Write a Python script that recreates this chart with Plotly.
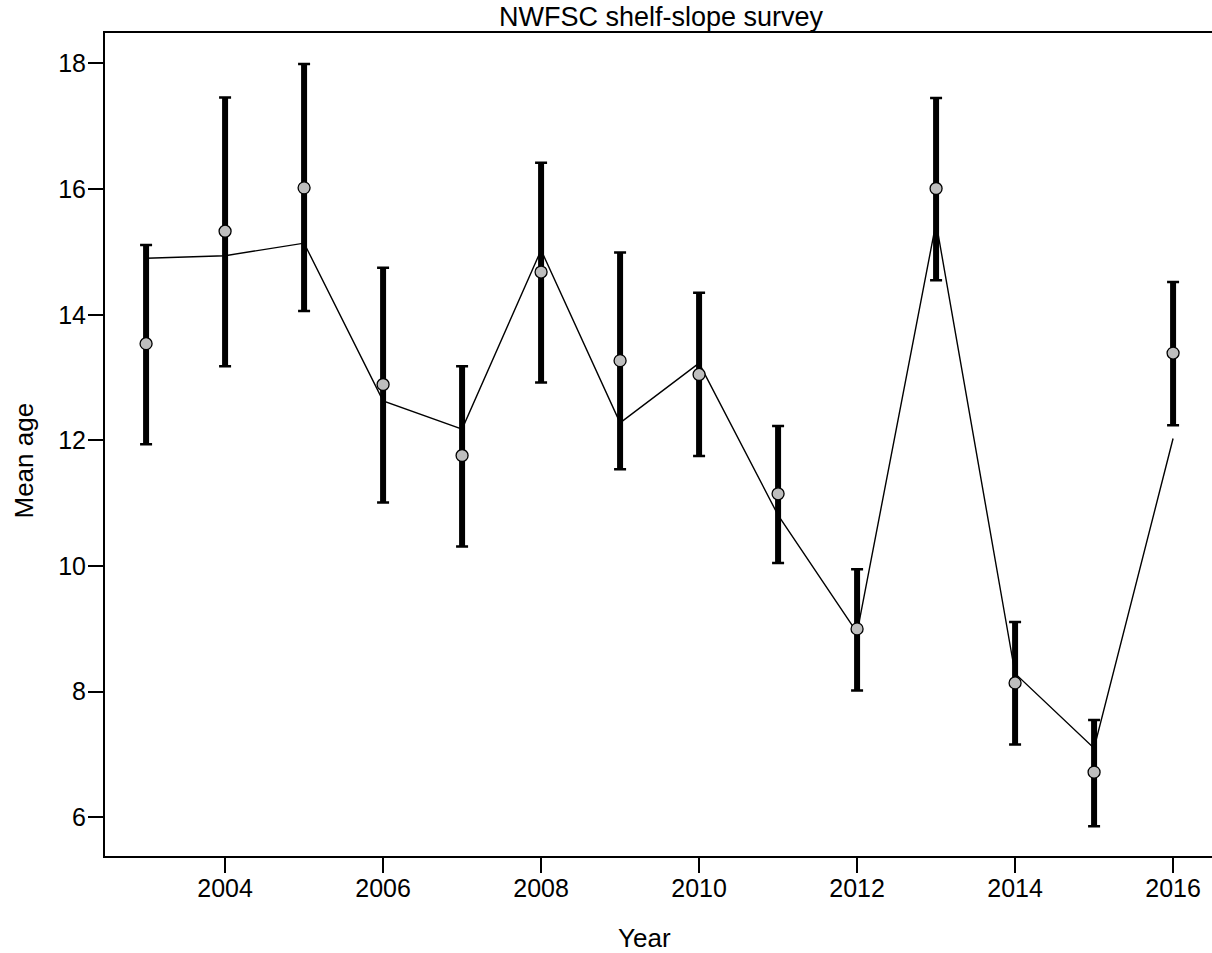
import plotly.graph_objects as go

years = [2003, 2004, 2005, 2006, 2007, 2008, 2009, 2010, 2011, 2012, 2013, 2014, 2015, 2016]
obs_mean_age = [13.54, 15.33, 16.02, 12.89, 11.76, 14.68, 13.27, 13.05, 11.15, 9.00, 16.01, 8.14, 6.72, 13.39]
upper_ci = [15.11, 17.46, 17.99, 14.75, 13.18, 16.42, 14.99, 14.35, 12.23, 9.95, 17.45, 9.11, 7.55, 14.52]
lower_ci = [11.94, 13.18, 14.06, 11.01, 10.31, 12.92, 11.54, 11.75, 10.05, 8.02, 14.55, 7.16, 5.86, 12.24]
exp_mean_age = [14.90, 14.94, 15.14, 12.63, 12.18, 15.03, 12.28, 13.23, 10.81, 8.94, 15.47, 8.29, 7.10, 12.03]
x_ticks = [2004, 2006, 2008, 2010, 2012, 2014, 2016]
y_ticks = [6, 8, 10, 12, 14, 16, 18]

err_plus = [u - o for u, o in zip(upper_ci, obs_mean_age)]
err_minus = [o - l for o, l in zip(obs_mean_age, lower_ci)]

FONT = "Liberation Sans, Arial, sans-serif"

fig = go.Figure()

# thick vertical bars
fig.add_trace(go.Scatter(
    x=years, y=obs_mean_age, mode="markers",
    marker=dict(size=1, color="rgba(0,0,0,0)"),
    error_y=dict(type="data", symmetric=False, array=err_plus, arrayminus=err_minus,
                 thickness=6, width=0, color="black"),
    showlegend=False, hoverinfo="skip"))
# caps
fig.add_trace(go.Scatter(
    x=years, y=obs_mean_age, mode="markers",
    marker=dict(size=1, color="rgba(0,0,0,0)"),
    error_y=dict(type="data", symmetric=False, array=err_plus, arrayminus=err_minus,
                 thickness=2.5, width=6, color="black"),
    showlegend=False, hoverinfo="skip"))
# expected line
fig.add_trace(go.Scatter(
    x=years, y=exp_mean_age, mode="lines",
    line=dict(color="black", width=1.4),
    showlegend=False))
# observed points
fig.add_trace(go.Scatter(
    x=years, y=obs_mean_age, mode="markers",
    marker=dict(size=12, color="#bebebe", line=dict(color="black", width=1.3)),
    showlegend=False))

L, T, B = 105, 33, 97
W, H = 1212, 953
pw = W - L
ph = H - T - B

def px_x(px):
    return (px - L) / pw

def px_y(py):
    return (H - B - py) / ph

fig.update_layout(
    width=W, height=H,
    margin=dict(l=L, r=0, t=T, b=B, pad=0),
    paper_bgcolor="white", plot_bgcolor="white",
    font=dict(family=FONT, size=25, color="black"),
    xaxis=dict(range=[2002.48, 2002.48 + pw / 79.0], tickvals=x_ticks,
               ticks="outside", ticklen=15, tickwidth=1.5, tickcolor="black",
               ticklabelstandoff=-6,
               showline=True, linewidth=2, linecolor="black", mirror=True,
               showgrid=False, zeroline=False,
               tickfont=dict(family=FONT, size=25, color="black")),
    yaxis=dict(range=[5.385, 18.485], tickvals=y_ticks,
               ticks="outside", ticklen=15, tickwidth=1.5, tickcolor="black",
               ticklabelstandoff=-3,
               showline=True, linewidth=2, linecolor="black", mirror=False,
               showgrid=False, zeroline=False,
               tickfont=dict(family=FONT, size=25, color="black")),
    annotations=[
        dict(text="NWFSC shelf-slope survey", x=px_x(661), y=px_y(17),
             xref="paper", yref="paper", xanchor="center", yanchor="middle",
             showarrow=False, font=dict(family=FONT, size=27, color="black")),
        dict(text="Year", x=px_x(644.5), y=px_y(938),
             xref="paper", yref="paper", xanchor="center", yanchor="middle",
             showarrow=False, font=dict(family=FONT, size=26, color="black")),
        dict(text="Mean age", x=px_x(24), y=px_y(460.5), textangle=-90,
             xref="paper", yref="paper", xanchor="center", yanchor="middle",
             showarrow=False, font=dict(family=FONT, size=26, color="black")),
    ],
)

fig.write_html(
    "out.html",
    config={"displayModeBar": False},
    post_script="document.body.style.margin='0';document.body.style.overflow='hidden';",
)
